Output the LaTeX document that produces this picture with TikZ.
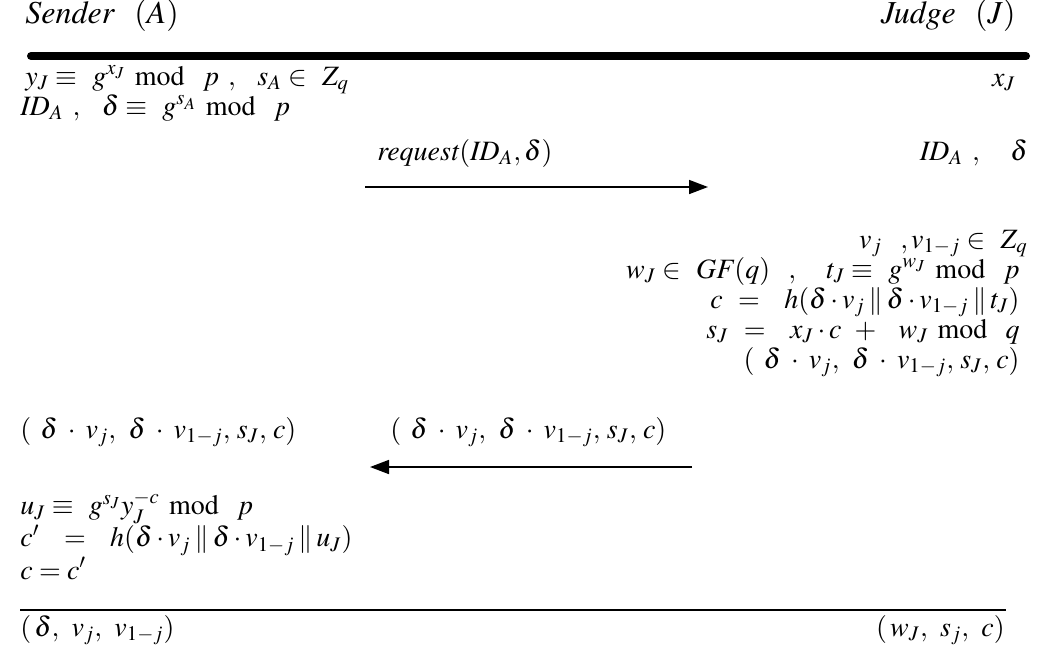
\documentclass[tikz,border=0pt]{standalone}
\usepackage{mathptmx}
\usetikzlibrary{arrows.meta}
\begin{document}
\begin{tikzpicture}
[x=0.5pt, y=-0.5pt, font=\fontsize{14}{15}\selectfont]
\tikzstyle{lhs}=[anchor=base west, inner sep=0pt, align=left]
\tikzstyle{rhs}=[anchor=base east, inner sep=0pt, align=right]
\tikzstyle{party}=[font=\fontsize{16}{18}\selectfont]
\tikzstyle{msg}=[line width=0.8pt, -{Triangle[length=9.5pt, width=7pt]}]
\useasboundingbox (0,0) rectangle (1054,649);

% parties
\node[lhs, party]	(sender)	at (25,23)	{$\mathit{Sender}\ \ (A)$};
\node[rhs, party]	(judge)		at (1016,23)	{$\mathit{Judge}\ \ (J)$};
\coordinate	(top-l)		at (31,56);
\coordinate	(top-r)		at (1026,56);
\draw[line width=4pt, line cap=round]	(top-l) -- (top-r);

% setup (base = last line)
\node[lhs]	(setup)	at (20,115)	{\hspace*{2.5pt}$y_J \equiv\ g^{x_J}\ \mathrm{mod}\ \ p\ ,\ \ s_A \in\ Z_q$\\
	$\mathit{ID}_A\ ,\ \ \delta \equiv\ g^{s_A}\ \mathrm{mod}\ \ p$};
\node[rhs]	(xJ)	at (1016,86)	{$x_J$};

% request
\node[lhs]	(req)	at (377,160)	{$\mathit{request}(\mathit{ID}_A, \delta)$};
\node[rhs]	(recv)	at (1028,160)	{$\mathit{ID}_A\ ,\ \ \ \delta$};
\coordinate	(req-s)	at (365,187);
\coordinate	(req-e)	at (708,187);
\draw[msg]	(req-s) -- (req-e);

% judge computes
\node[rhs]	(judging)	at (1020,368)	{$v_j\ \ , v_{1-j} \in\ Z_q$\hspace*{-4pt}\\
	$w_J \in\ \mathit{GF}(q)\ \ ,\ \ \ t_J \equiv\ g^{w_J}\ \mathrm{mod}\ \ p$\hspace*{1pt}\\
	$c\ =\ \ h(\delta\cdot v_j \mathbin{\|} \delta\cdot v_{1-j} \mathbin{\|} t_J)$\hspace*{1pt}\\
	$s_J\ =\ \ x_J\cdot c\ +\ \ w_J\ \mathrm{mod}\ \ q$\\
	$(\ \delta\;\cdot\; v_j,\ \delta\;\cdot\; v_{1-j},\, s_J,\, c)$};

% reply
\node[lhs]	(got)	at (20,438)	{$(\ \delta\;\cdot\; v_j,\ \delta\;\cdot\; v_{1-j},\, s_J,\, c)$};
\node[lhs]	(rep)	at (390,438)	{$(\ \delta\;\cdot\; v_j,\ \delta\;\cdot\; v_{1-j},\, s_J,\, c)$};
\coordinate	(rep-s)	at (692,467);
\coordinate	(rep-e)	at (370,467);
\draw[msg]	(rep-s) -- (rep-e);

% sender verifies
\node[lhs]	(verify)	at (20,579)	{$u_J \equiv\ g^{s_J}y_J^{-c}\ \mathrm{mod}\ \ p$\\
	$c'\ \ =\ \ h(\delta\cdot v_j \mathbin{\|} \delta\cdot v_{1-j} \mathbin{\|} u_J)$\\
	$c = c'$};

% result
\coordinate	(bot-l)	at (20,610);
\coordinate	(bot-r)	at (1006,610);
\draw[line width=0.75pt]	(bot-l) -- (bot-r);
\node[lhs]	(outA)	at (20,636)	{$(\,\delta,\ v_j,\ v_{1-j})$};
\node[rhs]	(outJ)	at (1005,636)	{$(\,w_J,\ s_j,\ c)$};
\end{tikzpicture}
\end{document}
